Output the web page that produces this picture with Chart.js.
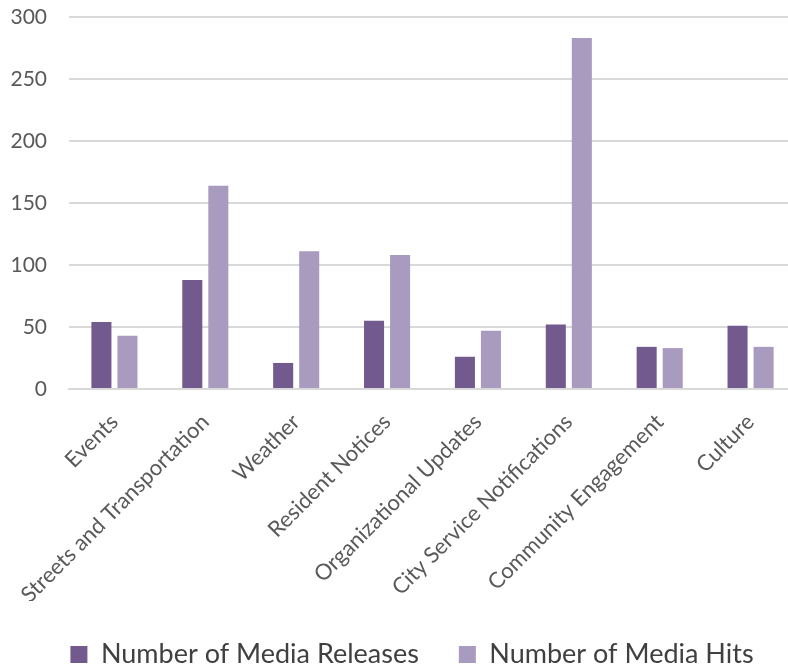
<!DOCTYPE html>
<html>
<head>
<meta charset="utf-8">
<script src="https://cdn.jsdelivr.net/npm/chart.js@4.4.1/dist/chart.umd.min.js"></script>
<style>
html,body{margin:0;padding:0;background:#fff;overflow:hidden;}
#wrap{width:796px;height:667px;}
</style>
</head>
<body>
<div id="wrap"><canvas id="chart"></canvas></div>
<script>
const categories = [
"Events",
"Streets and Transportation",
"Weather",
"Resident Notices",
"Organizational Updates",
"City Service Notifications",
"Community Engagement",
"Culture"
];

const mediaReleases = [54, 88, 21, 55, 26, 52, 34, 51];
const mediaHits = [43, 164, 111, 108, 47, 283, 33, 34];

const yTicks = [0, 50, 100, 150, 200, 250, 300];

// nudge the legend a bit to the right, like the original
const legendShift = {
id:"legendShift",
afterLayout(chart){
chart.legend.left += 14;
chart.legend.right += 14;
}
};

const ctx =
document
.getElementById("chart");

const chart =
new Chart(ctx,{
type:"bar",

data:{
labels:categories,

datasets:[{
label:"Number of Media Releases",
data:mediaReleases,
backgroundColor:"#725a8f",
barPercentage:0.77,
categoryPercentage:0.573
},{
label:"Number of Media Hits",
data:mediaHits,
backgroundColor:"#a99bbf",
barPercentage:0.77,
categoryPercentage:0.573
}]
},

plugins:[legendShift],

options:{
responsive:true,
maintainAspectRatio:false,
animation:false,
layout:{
padding:{top:17,left:0,right:0,bottom:-11}
},
plugins:{
tooltip:{enabled:false},
legend:{
position:"bottom",
labels:{
font:{family:"Lato",size:27},
color:"#404040",
boxWidth:17,
boxHeight:17,
padding:40
}
}
},
scales:{
x:{
afterFit:(s)=>{s.height=212;},
grid:{display:false},
border:{color:"#d9d9d9",width:2},
ticks:{
font:{family:"Lato",size:22},
color:"#595959",
minRotation:45,
maxRotation:45,
padding:12
}
},
y:{
min:0,
max:300,
afterFit:(s)=>{
s.width=69;
s.paddingTop=0;
s.paddingBottom=0;
},
afterBuildTicks:(s)=>{
s.ticks = yTicks.map(v=>({value:v}));
},
grid:{color:"#d9d9d9",lineWidth:2,drawTicks:false},
border:{display:false},
ticks:{
font:{family:"Lato",size:21},
color:"#595959",
padding:22
}
}
}
}
});
</script>
</body>
</html>
